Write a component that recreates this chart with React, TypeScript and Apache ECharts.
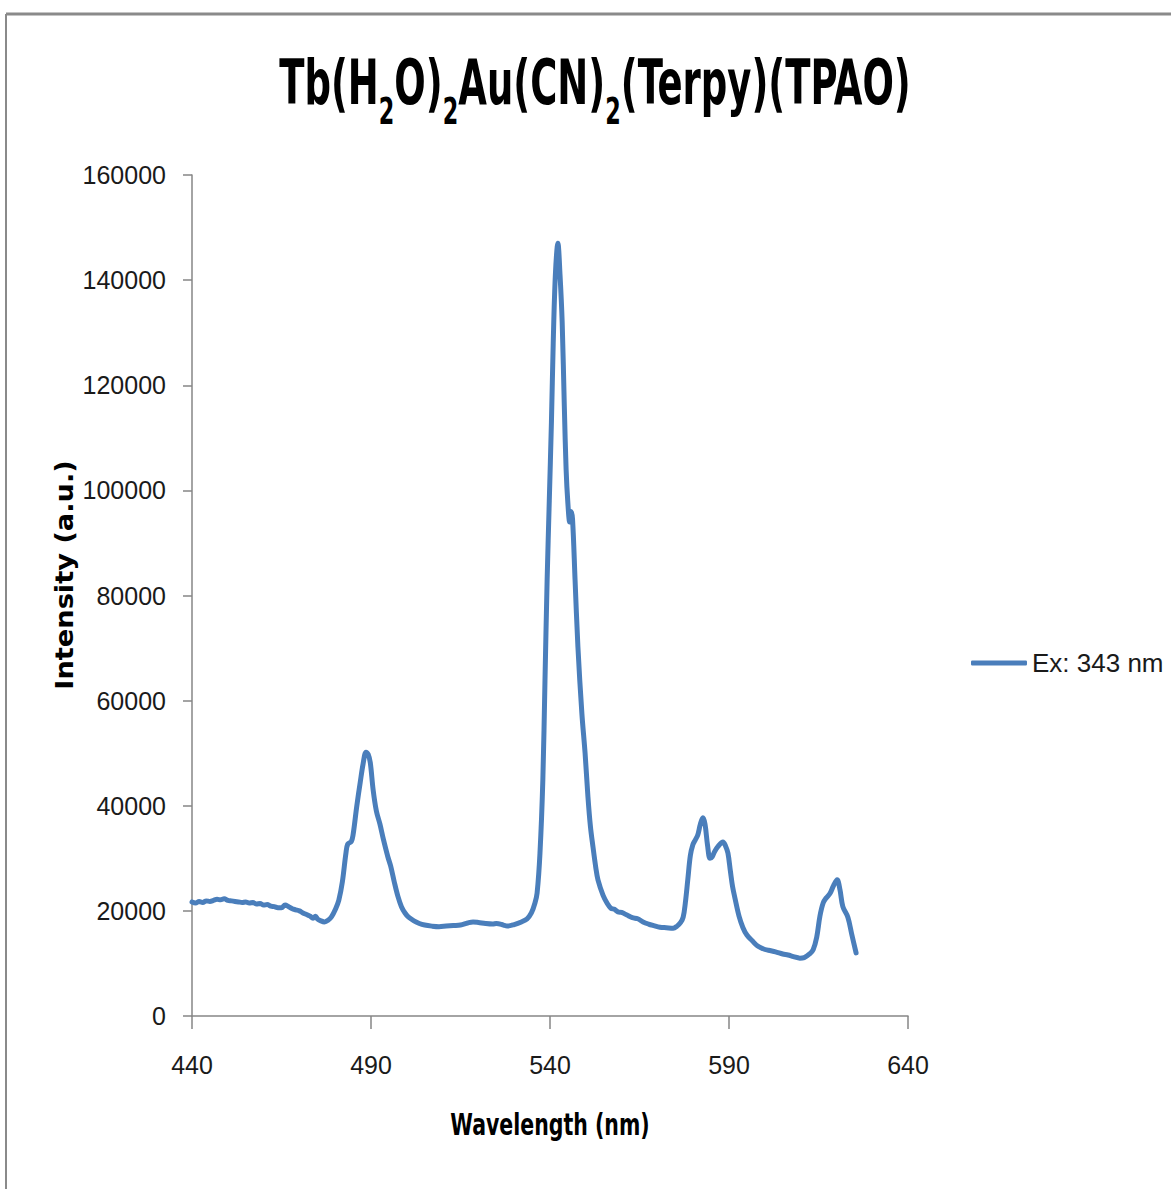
import React, { useEffect, useRef } from "react";
import * as echarts from "echarts";

const wavelengths = [
  440, 441, 442, 443, 444, 445, 446, 447, 448, 449, 450, 451, 452, 453, 454, 455, 456, 457, 458, 459,
  460, 461, 462, 463, 464, 465, 466, 467, 468, 469, 470, 471, 472, 473, 473.8, 474.5, 475, 476, 477, 478,
  479, 480, 481, 482, 483, 483.5, 484.5, 485, 486, 487, 487.8, 488.6, 489.2, 489.8, 490.6, 491.5, 492.5, 493.5, 494.7, 495.5,
  496.5, 497.5, 498.5, 499.5, 500.5, 502, 503.5, 505, 507, 509, 511, 513, 515, 517, 518.5, 520, 522, 524, 525, 527,
  528, 530, 532, 533.6, 534.8, 535.8, 536.4, 537.2, 538.0, 538.6, 539.2, 539.8, 540.4, 540.9, 541.5, 542.2, 542.8, 543.4, 544.0, 544.5,
  545.0, 545.5, 545.9, 546.3, 547.0, 547.8, 548.9, 549.8, 550.6, 551.3, 552.0, 552.8, 553.4, 554.8, 556, 557, 558, 559, 560, 561.5,
  563, 564.5, 566, 567.5, 569, 570.7, 572.5, 574.4, 575.5, 576.5, 577.2, 577.8, 578.5, 579.2, 579.9, 580.6, 581.3, 582, 582.7, 583.3,
  584, 584.7, 585.3, 586, 587, 588.3, 589, 589.7, 590.4, 591, 591.7, 592.8, 593.9, 595, 596.5, 598, 599.5, 601, 603, 605,
  606.5, 608, 609.8, 611, 612.5, 613.5, 614.5, 615.4, 616.3, 617.2, 618.2, 619.2, 620.2, 621, 621.8, 623.2, 624.3, 625.5,
];

const intensities = [
  21700, 21500, 21800, 21600, 21900, 21800, 22000, 22200, 22100, 22300, 22000, 21900, 21800, 21700, 21600, 21700, 21500, 21600, 21300, 21400,
  21100, 21200, 20900, 20800, 20600, 20600, 21100, 20800, 20400, 20200, 20000, 19600, 19300, 19000, 18600, 19000, 18500, 18100, 17900, 18200,
  18900, 20200, 22000, 25500, 31000, 32700, 33200, 34500, 39800, 44500, 48000, 50200, 49800, 48200, 43000, 39000, 36500, 33500, 30300, 28500,
  25500, 22800, 20800, 19600, 18800, 18100, 17600, 17300, 17100, 17000, 17100, 17200, 17300, 17700, 17900, 17800, 17600, 17500, 17600, 17300,
  17100, 17400, 17900, 18500, 19600, 21500, 23400, 31000, 44900, 63900, 83000, 98000, 113000, 128000, 141000, 147000, 141000, 132000, 116000, 104000,
  97500, 94000, 96000, 94500, 83000, 70200, 57600, 50000, 41700, 36000, 32200, 28200, 25900, 23000, 21400, 20500, 20300, 19800, 19700, 19200,
  18700, 18500, 17900, 17500, 17200, 16900, 16800, 16700, 17100, 17800, 18800, 21500, 26000, 30500, 32600, 33500, 34500, 36500, 37700, 36500,
  32500, 30000, 30300, 31300, 32300, 33100, 32400, 31000, 27500, 24600, 22300, 19000, 16800, 15400, 14300, 13300, 12800, 12500, 12200, 11800,
  11600, 11300, 11000, 11100, 11800, 12600, 15000, 19000, 21500, 22500, 23300, 24800, 25900, 24000, 20800, 18800, 15500, 12000,
];

const seriesName = "Ex: 343 nm";
const xTicks = { min: 440, max: 640, interval: 50 };
const yTicks = { min: 0, max: 160000, interval: 20000 };

const labelFont = "'Liberation Sans', Arial, sans-serif";
const condFont = "'DejaVu Sans Condensed', 'DejaVu Sans', sans-serif";

export default function App() {
  const ref = useRef<HTMLDivElement>(null);

  useEffect(() => {
    if (!ref.current) return;
    const chart = echarts.init(ref.current, null, { renderer: "svg" });
    const data = wavelengths.map((w, i) => [w, intensities[i]]);
    chart.setOption({
      animation: false,
      backgroundColor: "#ffffff",
      grid: { left: 192, top: 175, width: 716, height: 841, containLabel: false },
      legend: {
        data: [seriesName],
        left: 971,
        top: 650,
        padding: 0,
        icon: "roundRect",
        itemWidth: 56,
        itemHeight: 5,
        textStyle: { fontFamily: labelFont, fontSize: 26, color: "#1a1a1a", lineHeight: 26 },
      },
      xAxis: {
        type: "value",
        min: xTicks.min,
        max: xTicks.max,
        interval: xTicks.interval,
        axisLine: { show: true, lineStyle: { color: "#868686", width: 1.5 } },
        axisTick: { show: true, length: 13, lineStyle: { color: "#868686", width: 1.5 } },
        axisLabel: { margin: 36, fontFamily: labelFont, fontSize: 25, color: "#1a1a1a" },
        splitLine: { show: false },
      },
      yAxis: {
        type: "value",
        min: yTicks.min,
        max: yTicks.max,
        interval: yTicks.interval,
        axisLine: { show: true, lineStyle: { color: "#868686", width: 1.5 } },
        axisTick: { show: true, length: 9, lineStyle: { color: "#868686", width: 1.5 } },
        axisLabel: {
          margin: 26,
          fontFamily: labelFont,
          fontSize: 25,
          color: "#1a1a1a",
          formatter: (v: number) => String(v),
        },
        splitLine: { show: false },
      },
      graphic: [
        {
          type: "line",
          shape: { x1: 6, y1: 14, x2: 1171, y2: 14 },
          style: { stroke: "#8a8a8a", lineWidth: 3 },
        },
        {
          type: "line",
          shape: { x1: 6, y1: 14, x2: 6, y2: 1189 },
          style: { stroke: "#8a8a8a", lineWidth: 2 },
        },
        {
          type: "text",
          x: 595,
          y: 52,
          scaleX: 0.776,
          scaleY: 1.16,
          style: {
            text: "{m|Tb(H}{s|2}{m|O)}{s|2}{m|Au(CN)}{s|2}{m|(Terpy)(TPAO)}",
            align: "center",
            verticalAlign: "top",
            textAlign: "center",
            textVerticalAlign: "top",
            fill: "#000",
            rich: {
              m: { fontFamily: condFont, fontWeight: "bold", fontSize: 53, lineHeight: 60, verticalAlign: "top", fill: "#000", color: "#000" },
              s: { fontFamily: condFont, fontWeight: "bold", fontSize: 32, lineHeight: 102, fill: "#000", color: "#000" },
            },
          },
        },
        {
          type: "text",
          x: 550,
          y: 1124,
          scaleX: 0.76,
          style: {
            text: "Wavelength (nm)",
            align: "center",
            verticalAlign: "middle",
            textAlign: "center",
            textVerticalAlign: "middle",
            fontFamily: condFont,
            fontWeight: "bold",
            fontSize: 30,
            fill: "#000",
          },
        },
        {
          type: "text",
          x: 64,
          y: 575,
          rotation: Math.PI / 2,
          scaleX: 1.09,
          style: {
            text: "Intensity (a.u.)",
            align: "center",
            verticalAlign: "middle",
            textAlign: "center",
            textVerticalAlign: "middle",
            fontFamily: "'DejaVu Sans', sans-serif",
            fontWeight: "bold",
            fontSize: 25,
            fill: "#000",
          },
        },
      ],
      series: [
        {
          name: seriesName,
          type: "line",
          data,
          showSymbol: false,
          symbol: "none",
          smooth: 0.35,
          lineStyle: { color: "#4A7EBB", width: 5, cap: "round", join: "round" },
          itemStyle: { color: "#4A7EBB" },
        },
      ],
    });
    return () => chart.dispose();
  }, []);

  return (
    <div
      ref={ref}
      style={{ position: "fixed", left: 0, top: 0, width: 1171, height: 1189, background: "#fff" }}
    />
  );
}
